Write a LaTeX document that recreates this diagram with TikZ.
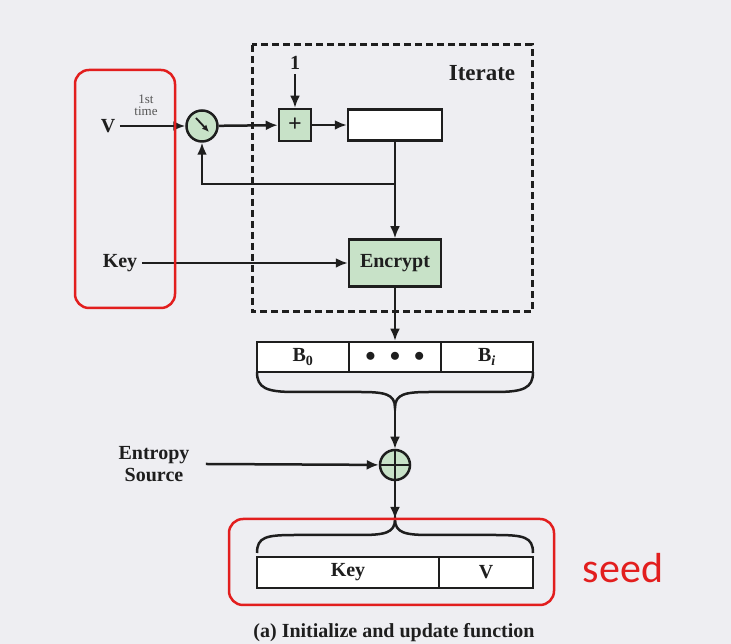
\documentclass[tikz,border=0pt]{standalone}
\usepackage{fontspec}
\setmainfont{Liberation Serif}
\newfontfamily\seedfont{Carlito}
\usetikzlibrary{arrows.meta}
\definecolor{bggray}{RGB}{238,238,242}
\definecolor{boxgreen}{RGB}{200,226,200}
\definecolor{linegray}{RGB}{30,30,30}
\definecolor{markred}{RGB}{226,30,30}

\begin{document}
\begin{tikzpicture}[x=1pt, y=1pt,
    line width=2.5pt, draw=linegray,
    lbl/.style={font=\bfseries\fontsize{20}{22}\selectfont, text=linegray},
    cell/.style={draw, fill=white, inner sep=0pt, minimum height=30pt, lbl},
    greenbox/.style={draw, fill=boxgreen, inner sep=0pt, lbl},
    arr/.style={-{Latex[length=12pt, width=10pt]}},
    redframe/.style={draw=markred, line width=2.5pt, rounded corners=14pt}]
    \fill[bggray] (0,0) rectangle (731,644);
    \useasboundingbox (0,0) rectangle (731,644);

    % iterate loop
    \draw[line width=3pt, dash pattern=on 7pt off 4pt] (252,599) rectangle (532,332);
    \node[lbl, font=\bfseries\fontsize{23}{25}\selectfont] (iter) at (482,571) {Iterate};
    \node[lbl] (vlab) at (108,518) {V};
    \node[font=\fontsize{13}{12}\selectfont, align=center, text=linegray!75] (first) at (146,539) {1st\\time};
    \node[draw, circle, fill=boxgreen, minimum size=31pt, inner sep=0pt] (sw) at (202,518) {};
    \draw[-{Latex[length=7pt, width=6pt]}, line width=1.8pt] ([shift={(-6pt,8pt)}]sw.center) -- ([shift={(7pt,-6pt)}]sw.center);
    \node[greenbox, minimum size=32pt, font=\bfseries\fontsize{24}{24}\selectfont] (inc) at (295,519) {+};
    \node[lbl] (one) at (295,581) {1};
    \node[cell, minimum width=94pt, minimum height=31pt] (reg) at (395,519) {};
    \node[greenbox, minimum width=92pt, minimum height=47pt] (enc) at (395,381) {Encrypt};
    \node[lbl] (keylab) at (120,381) {Key};
    \coordinate (fb) at (395,460);

    \draw[arr] (vlab) -- (sw);
    \draw[arr] (sw) -- (inc);
    \draw[arr] (one) -- (inc);
    \draw[arr] (inc) -- (reg);
    \draw[arr] (reg) -- (enc);
    \draw[arr] (fb) -| (sw);
    \draw[arr] (keylab) -- (enc);

    % output blocks
    \node[cell, minimum width=92pt] (b0) at (303,287) {B\textsubscript{0}};
    \node[cell, minimum width=92pt] (bdots) at (395,287) {$\bullet$\hspace{14pt}$\bullet$\hspace{14pt}$\bullet$};
    \node[cell, minimum width=92pt] (bi) at (487,287) {B\textsubscript{\itshape i}};
    \draw[arr] (enc) -- (bdots);
    \coordinate (btip) at (395,236);
    \draw (257,272) .. controls (257,256) and (266,252) .. (295,252) -- (360,252)
        .. controls (385,252) and (395,250) .. (btip)
        .. controls (395,250) and (405,252) .. (430,252) -- (495,252)
        .. controls (524,252) and (533,256) .. (533,272);

    \node[draw, circle, fill=boxgreen, minimum size=30pt, inner sep=0pt] (xor) at (395,179) {};
    \draw[line width=1.8pt] (xor.north) -- (xor.south) (xor.west) -- (xor.east);
    \node[lbl, align=center] (ent) at (154,180) {Entropy\\Source};
    \draw[arr] (btip) -- (xor);
    \draw[arr] ([xshift=12pt]ent.east) -- (xor);

    % seed
    \coordinate (ktip) at (395,125);
    \draw[arr] (xor) -- (ktip);
    \draw (257,91) .. controls (257,107) and (266,109) .. (295,109) -- (360,109)
        .. controls (385,109) and (395,111) .. (ktip)
        .. controls (395,111) and (405,109) .. (430,109) -- (495,109)
        .. controls (524,109) and (533,107) .. (533,91);
    \node[cell, minimum width=182pt, minimum height=31pt] (kcell) at (348,71.5) {Key};
    \node[cell, minimum width=94pt, minimum height=31pt] (vcell) at (486,71.5) {V};

    \draw[redframe] (75,574) rectangle (175,336);
    \draw[redframe] (229,125) rectangle (554,39);
    \node[anchor=base, text=markred, font=\seedfont\fontsize{42}{44}\selectfont] (seed) at (623,61) {seed};

    \node[anchor=base, lbl] (cap) at (394,6) {(a) Initialize and update function};
\end{tikzpicture}
\end{document}
